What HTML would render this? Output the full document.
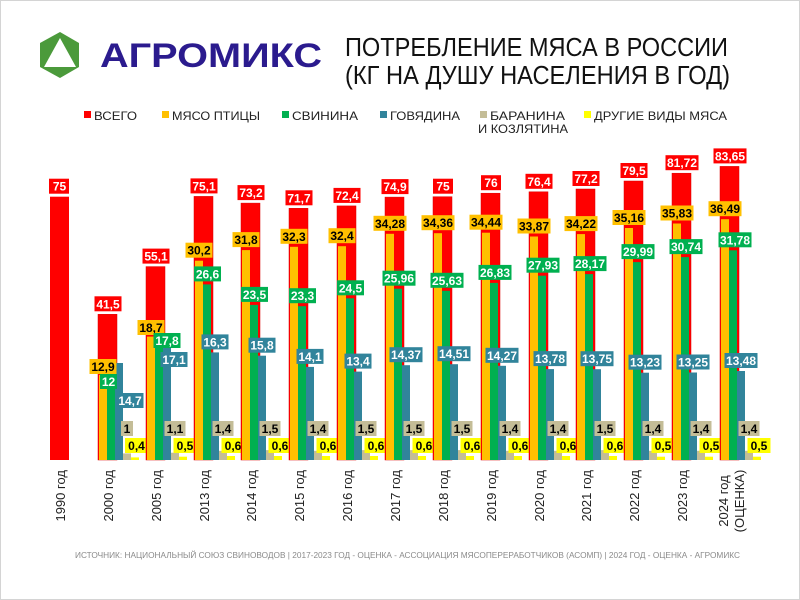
<!DOCTYPE html>
<html><head><meta charset="utf-8"><style>
html,body{margin:0;padding:0;background:#fff}
svg{display:block}
text{font-family:"Liberation Sans",sans-serif}
.lb{font-size:12px;font-weight:bold;text-anchor:middle}
.w{fill:#fff}.k{fill:#000}
.ax{font-size:13px;fill:#222;text-anchor:end}
</style></head><body>
<svg width="800" height="600" viewBox="0 0 800 600" xmlns="http://www.w3.org/2000/svg">
<rect x="0.5" y="0.5" width="799" height="599" fill="#fff" stroke="#d4d4d4"/>
<!-- logo -->
<polygon points="60,32 79,43 79,67 60,78 40,67 40,43" fill="#4b9a3b"/>
<polygon points="60,38 76,67 44,67" fill="#fff"/>
<text x="100" y="67" font-size="34" font-weight="bold" fill="#2b1b8e" textLength="222" lengthAdjust="spacingAndGlyphs">АГРОМИКС</text>
<!-- title -->
<text x="345" y="56" font-size="26" fill="#111" textLength="383" lengthAdjust="spacingAndGlyphs">ПОТРЕБЛЕНИЕ МЯСА В РОССИИ</text>
<text x="345" y="84" font-size="26" fill="#111" textLength="385" lengthAdjust="spacingAndGlyphs">(КГ НА ДУШУ НАСЕЛЕНИЯ В ГОД)</text>
<!-- legend -->
<g font-size="12" fill="#222">
<rect x="84" y="111" width="7" height="7" fill="#ff0000"/><text x="94" y="120" textLength="43" lengthAdjust="spacingAndGlyphs">ВСЕГО</text>
<rect x="162" y="111" width="7" height="7" fill="#ffc000"/><text x="172" y="120" textLength="88" lengthAdjust="spacingAndGlyphs">МЯСО ПТИЦЫ</text>
<rect x="282" y="111" width="7" height="7" fill="#00b050"/><text x="292" y="120" textLength="66" lengthAdjust="spacingAndGlyphs">СВИНИНА</text>
<rect x="380" y="111" width="7" height="7" fill="#31849b"/><text x="390" y="120" textLength="70" lengthAdjust="spacingAndGlyphs">ГОВЯДИНА</text>
<rect x="480" y="111" width="7" height="7" fill="#c4bd97"/><text x="490" y="120" textLength="75" lengthAdjust="spacingAndGlyphs">БАРАНИНА</text>
<text x="478" y="133" textLength="90" lengthAdjust="spacingAndGlyphs">И КОЗЛЯТИНА</text>
<rect x="584" y="111" width="7" height="7" fill="#ffff00"/><text x="594" y="120" textLength="133" lengthAdjust="spacingAndGlyphs">ДРУГИЕ ВИДЫ МЯСА</text>
</g>

<!-- 1990 -->
<g transform="translate(50,0)">
<rect x="0" y="196.7" width="19" height="263.3" fill="#ff0000"/>
<rect x="-1" y="178.7" width="20" height="15" fill="#ff0000"/><text class="lb w" x="9.5" y="190.7">75</text>
<text class="ax" transform="translate(15,470) rotate(-90)">1990 год</text>
</g>

<!-- 2000 -->
<g transform="translate(98,0)">
<rect x="0" y="314.3" width="19" height="145.7" fill="#ff0000" stroke="#d00" stroke-width="0.5"/>
<rect x="1" y="374.9" width="8" height="85.1" fill="#ffc000"/>
<rect x="9" y="380.8" width="8" height="79.2" fill="#00b050"/>
<rect x="17" y="363" width="8" height="97" fill="#31849b"/>
<rect x="25" y="453.4" width="8" height="6.6" fill="#c4bd97"/>
<rect x="33" y="457.4" width="8" height="2.6" fill="#ffff00"/>
<rect x="-3.5" y="296.3" width="27" height="15" fill="#ff0000"/><text class="lb w" x="10" y="308.3">41,5</text>
<rect x="-8.5" y="359" width="27" height="15" fill="#ffc000"/><text class="lb k" x="5" y="371">12,9</text>
<rect x="2" y="374" width="17" height="15" fill="#00b050"/><text class="lb w" x="10.5" y="386">12</text>
<rect x="18.5" y="393" width="27" height="15" fill="#31849b"/><text class="lb w" x="32" y="405">14,7</text>
<rect x="23" y="421" width="12" height="15" fill="#c4bd97"/><text class="lb k" x="29" y="433">1</text>
<rect x="27" y="438" width="23" height="15" fill="#ffff00"/><text class="lb k" x="38.5" y="450">0,4</text>
<text class="ax" transform="translate(15,470) rotate(-90)">2000 год</text>
</g>

<!-- 2005 -->
<g transform="translate(146,0)">
<rect x="0" y="266.6" width="19" height="193.4" fill="#ff0000" stroke="#d00" stroke-width="0.5"/>
<rect x="1" y="336.6" width="8" height="123.4" fill="#ffc000"/>
<rect x="9" y="342.5" width="8" height="117.5" fill="#00b050"/>
<rect x="17" y="347.1" width="8" height="112.9" fill="#31849b"/>
<rect x="25" y="452.7" width="8" height="7.3" fill="#c4bd97"/>
<rect x="33" y="456.7" width="8" height="3.3" fill="#ffff00"/>
<rect x="-3.5" y="248.6" width="27" height="15" fill="#ff0000"/><text class="lb w" x="10" y="260.6">55,1</text>
<rect x="-8.5" y="320" width="27" height="15" fill="#ffc000"/><text class="lb k" x="5" y="332">18,7</text>
<rect x="7.5" y="333" width="27" height="15" fill="#00b050"/><text class="lb w" x="21" y="345">17,8</text>
<rect x="14.5" y="352" width="27" height="15" fill="#31849b"/><text class="lb w" x="28" y="364">17,1</text>
<rect x="18.5" y="421" width="21" height="15" fill="#c4bd97"/><text class="lb k" x="29" y="433">1,1</text>
<rect x="27.5" y="438" width="23" height="15" fill="#ffff00"/><text class="lb k" x="39" y="450">0,5</text>
<text class="ax" transform="translate(15,470) rotate(-90)">2005 год</text>
</g>

<!-- 2013 -->
<g transform="translate(194,0)">
<rect x="0" y="196.4" width="19" height="263.6" fill="#ff0000" stroke="#d00" stroke-width="0.5"/>
<rect x="1" y="260.7" width="8" height="199.3" fill="#ffc000"/>
<rect x="9" y="284.4" width="8" height="175.6" fill="#00b050"/>
<rect x="17" y="352.4" width="8" height="107.6" fill="#31849b"/>
<rect x="25" y="450.8" width="8" height="9.2" fill="#c4bd97"/>
<rect x="33" y="456" width="8" height="4" fill="#ffff00"/>
<rect x="-3.5" y="178.4" width="27" height="15" fill="#ff0000"/><text class="lb w" x="10" y="190.4">75,1</text>
<rect x="-8.5" y="242.7" width="27" height="15" fill="#ffc000"/><text class="lb k" x="5" y="254.7">30,2</text>
<rect x="0" y="266.4" width="27" height="15" fill="#00b050"/><text class="lb w" x="13.5" y="278.4">26,6</text>
<rect x="7.5" y="334.4" width="27" height="15" fill="#31849b"/><text class="lb w" x="21" y="346.4">16,3</text>
<rect x="18.5" y="421" width="21" height="15" fill="#c4bd97"/><text class="lb k" x="29" y="433">1,4</text>
<rect x="27.5" y="438" width="23" height="15" fill="#ffff00"/><text class="lb k" x="39" y="450">0,6</text>
<text class="ax" transform="translate(15,470) rotate(-90)">2013 год</text>
</g>

<!-- 2014 -->
<g transform="translate(241,0)">
<rect x="0" y="203.1" width="19" height="256.9" fill="#ff0000" stroke="#d00" stroke-width="0.5"/>
<rect x="1" y="250.1" width="8" height="209.9" fill="#ffc000"/>
<rect x="9" y="304.9" width="8" height="155.1" fill="#00b050"/>
<rect x="17" y="355.7" width="8" height="104.3" fill="#31849b"/>
<rect x="25" y="450.1" width="8" height="9.9" fill="#c4bd97"/>
<rect x="33" y="456" width="8" height="4" fill="#ffff00"/>
<rect x="-3.5" y="185.1" width="27" height="15" fill="#ff0000"/><text class="lb w" x="10" y="197.1">73,2</text>
<rect x="-8.5" y="232.1" width="27" height="15" fill="#ffc000"/><text class="lb k" x="5" y="244.1">31,8</text>
<rect x="0" y="286.9" width="27" height="15" fill="#00b050"/><text class="lb w" x="13.5" y="298.9">23,5</text>
<rect x="7.5" y="337.7" width="27" height="15" fill="#31849b"/><text class="lb w" x="21" y="349.7">15,8</text>
<rect x="18.5" y="421" width="21" height="15" fill="#c4bd97"/><text class="lb k" x="29" y="433">1,5</text>
<rect x="27.5" y="438" width="23" height="15" fill="#ffff00"/><text class="lb k" x="39" y="450">0,6</text>
<text class="ax" transform="translate(15,470) rotate(-90)">2014 год</text>
</g>

<!-- 2015 -->
<g transform="translate(289,0)">
<rect x="0" y="208.3" width="19" height="251.7" fill="#ff0000" stroke="#d00" stroke-width="0.5"/>
<rect x="1" y="246.8" width="8" height="213.2" fill="#ffc000"/>
<rect x="9" y="306.2" width="8" height="153.8" fill="#00b050"/>
<rect x="17" y="366.9" width="8" height="93.1" fill="#31849b"/>
<rect x="25" y="450.8" width="8" height="9.2" fill="#c4bd97"/>
<rect x="33" y="456" width="8" height="4" fill="#ffff00"/>
<rect x="-3.5" y="190.3" width="27" height="15" fill="#ff0000"/><text class="lb w" x="10" y="202.3">71,7</text>
<rect x="-8.5" y="228.8" width="27" height="15" fill="#ffc000"/><text class="lb k" x="5" y="240.8">32,3</text>
<rect x="0" y="288.2" width="27" height="15" fill="#00b050"/><text class="lb w" x="13.5" y="300.2">23,3</text>
<rect x="7.5" y="348.9" width="27" height="15" fill="#31849b"/><text class="lb w" x="21" y="360.9">14,1</text>
<rect x="18.5" y="421" width="21" height="15" fill="#c4bd97"/><text class="lb k" x="29" y="433">1,4</text>
<rect x="27.5" y="438" width="23" height="15" fill="#ffff00"/><text class="lb k" x="39" y="450">0,6</text>
<text class="ax" transform="translate(15,470) rotate(-90)">2015 год</text>
</g>

<!-- 2016 -->
<g transform="translate(337,0)">
<rect x="0" y="205.9" width="19" height="254.1" fill="#ff0000" stroke="#d00" stroke-width="0.5"/>
<rect x="1" y="246.2" width="8" height="213.8" fill="#ffc000"/>
<rect x="9" y="298.3" width="8" height="161.7" fill="#00b050"/>
<rect x="17" y="371.6" width="8" height="88.4" fill="#31849b"/>
<rect x="25" y="450.1" width="8" height="9.9" fill="#c4bd97"/>
<rect x="33" y="456" width="8" height="4" fill="#ffff00"/>
<rect x="-3.5" y="187.9" width="27" height="15" fill="#ff0000"/><text class="lb w" x="10" y="199.9">72,4</text>
<rect x="-8.5" y="228.2" width="27" height="15" fill="#ffc000"/><text class="lb k" x="5" y="240.2">32,4</text>
<rect x="0" y="280.3" width="27" height="15" fill="#00b050"/><text class="lb w" x="13.5" y="292.3">24,5</text>
<rect x="7.5" y="353.6" width="27" height="15" fill="#31849b"/><text class="lb w" x="21" y="365.6">13,4</text>
<rect x="18.5" y="421" width="21" height="15" fill="#c4bd97"/><text class="lb k" x="29" y="433">1,5</text>
<rect x="27.5" y="438" width="23" height="15" fill="#ffff00"/><text class="lb k" x="39" y="450">0,6</text>
<text class="ax" transform="translate(15,470) rotate(-90)">2016 год</text>
</g>

<!-- 2017 -->
<g transform="translate(385,0)">
<rect x="0" y="197.1" width="19" height="262.9" fill="#ff0000" stroke="#d00" stroke-width="0.5"/>
<rect x="1" y="233.8" width="8" height="226.2" fill="#ffc000"/>
<rect x="9" y="288.7" width="8" height="171.3" fill="#00b050"/>
<rect x="17" y="365.2" width="8" height="94.8" fill="#31849b"/>
<rect x="25" y="450.1" width="8" height="9.9" fill="#c4bd97"/>
<rect x="33" y="456" width="8" height="4" fill="#ffff00"/>
<rect x="-3.5" y="179.1" width="27" height="15" fill="#ff0000"/><text class="lb w" x="10" y="191.1">74,9</text>
<rect x="-11.5" y="215.8" width="33" height="15" fill="#ffc000"/><text class="lb k" x="5" y="227.8">34,28</text>
<rect x="-2.5" y="270.7" width="33" height="15" fill="#00b050"/><text class="lb w" x="14" y="282.7">25,96</text>
<rect x="4.5" y="347.2" width="33" height="15" fill="#31849b"/><text class="lb w" x="21" y="359.2">14,37</text>
<rect x="18.5" y="421" width="21" height="15" fill="#c4bd97"/><text class="lb k" x="29" y="433">1,5</text>
<rect x="27.5" y="438" width="23" height="15" fill="#ffff00"/><text class="lb k" x="39" y="450">0,6</text>
<text class="ax" transform="translate(15,470) rotate(-90)">2017 год</text>
</g>

<!-- 2018 -->
<g transform="translate(433,0)">
<rect x="0" y="196.7" width="19" height="263.3" fill="#ff0000" stroke="#d00" stroke-width="0.5"/>
<rect x="1" y="233.2" width="8" height="226.8" fill="#ffc000"/>
<rect x="9" y="290.8" width="8" height="169.2" fill="#00b050"/>
<rect x="17" y="364.2" width="8" height="95.8" fill="#31849b"/>
<rect x="25" y="450.1" width="8" height="9.9" fill="#c4bd97"/>
<rect x="33" y="456" width="8" height="4" fill="#ffff00"/>
<rect x="0" y="178.7" width="20" height="15" fill="#ff0000"/><text class="lb w" x="10" y="190.7">75</text>
<rect x="-11.5" y="215.2" width="33" height="15" fill="#ffc000"/><text class="lb k" x="5" y="227.2">34,36</text>
<rect x="-2.5" y="272.8" width="33" height="15" fill="#00b050"/><text class="lb w" x="14" y="284.8">25,63</text>
<rect x="4.5" y="346.2" width="33" height="15" fill="#31849b"/><text class="lb w" x="21" y="358.2">14,51</text>
<rect x="18.5" y="421" width="21" height="15" fill="#c4bd97"/><text class="lb k" x="29" y="433">1,5</text>
<rect x="27.5" y="438" width="23" height="15" fill="#ffff00"/><text class="lb k" x="39" y="450">0,6</text>
<text class="ax" transform="translate(15,470) rotate(-90)">2018 год</text>
</g>

<!-- 2019 -->
<g transform="translate(481,0)">
<rect x="0" y="193.2" width="19" height="266.8" fill="#ff0000" stroke="#d00" stroke-width="0.5"/>
<rect x="1" y="232.7" width="8" height="227.3" fill="#ffc000"/>
<rect x="9" y="282.9" width="8" height="177.1" fill="#00b050"/>
<rect x="17" y="365.8" width="8" height="94.2" fill="#31849b"/>
<rect x="25" y="450.8" width="8" height="9.2" fill="#c4bd97"/>
<rect x="33" y="456" width="8" height="4" fill="#ffff00"/>
<rect x="0" y="175.2" width="20" height="15" fill="#ff0000"/><text class="lb w" x="10" y="187.2">76</text>
<rect x="-11.5" y="214.7" width="33" height="15" fill="#ffc000"/><text class="lb k" x="5" y="226.7">34,44</text>
<rect x="-2.5" y="264.9" width="33" height="15" fill="#00b050"/><text class="lb w" x="14" y="276.9">26,83</text>
<rect x="4.5" y="347.8" width="33" height="15" fill="#31849b"/><text class="lb w" x="21" y="359.8">14,27</text>
<rect x="18.5" y="421" width="21" height="15" fill="#c4bd97"/><text class="lb k" x="29" y="433">1,4</text>
<rect x="27.5" y="438" width="23" height="15" fill="#ffff00"/><text class="lb k" x="39" y="450">0,6</text>
<text class="ax" transform="translate(15,470) rotate(-90)">2019 год</text>
</g>

<!-- 2020 -->
<g transform="translate(529,0)">
<rect x="0" y="191.8" width="19" height="268.2" fill="#ff0000" stroke="#d00" stroke-width="0.5"/>
<rect x="1" y="236.5" width="8" height="223.5" fill="#ffc000"/>
<rect x="9" y="275.7" width="8" height="184.3" fill="#00b050"/>
<rect x="17" y="369.1" width="8" height="90.9" fill="#31849b"/>
<rect x="25" y="450.8" width="8" height="9.2" fill="#c4bd97"/>
<rect x="33" y="456" width="8" height="4" fill="#ffff00"/>
<rect x="-3.5" y="173.8" width="27" height="15" fill="#ff0000"/><text class="lb w" x="10" y="185.8">76,4</text>
<rect x="-11.5" y="218.5" width="33" height="15" fill="#ffc000"/><text class="lb k" x="5" y="230.5">33,87</text>
<rect x="-2.5" y="257.7" width="33" height="15" fill="#00b050"/><text class="lb w" x="14" y="269.7">27,93</text>
<rect x="4.5" y="351.1" width="33" height="15" fill="#31849b"/><text class="lb w" x="21" y="363.1">13,78</text>
<rect x="18.5" y="421" width="21" height="15" fill="#c4bd97"/><text class="lb k" x="29" y="433">1,4</text>
<rect x="27.5" y="438" width="23" height="15" fill="#ffff00"/><text class="lb k" x="39" y="450">0,6</text>
<text class="ax" transform="translate(15,470) rotate(-90)">2020 год</text>
</g>

<!-- 2021 -->
<g transform="translate(576,0)">
<rect x="0" y="189" width="19" height="271" fill="#ff0000" stroke="#d00" stroke-width="0.5"/>
<rect x="1" y="234.1" width="8" height="225.9" fill="#ffc000"/>
<rect x="9" y="274.1" width="8" height="185.9" fill="#00b050"/>
<rect x="17" y="369.2" width="8" height="90.8" fill="#31849b"/>
<rect x="25" y="450.1" width="8" height="9.9" fill="#c4bd97"/>
<rect x="33" y="456" width="8" height="4" fill="#ffff00"/>
<rect x="-3.5" y="171" width="27" height="15" fill="#ff0000"/><text class="lb w" x="10" y="183">77,2</text>
<rect x="-11.5" y="216.1" width="33" height="15" fill="#ffc000"/><text class="lb k" x="5" y="228.1">34,22</text>
<rect x="-2.5" y="256.1" width="33" height="15" fill="#00b050"/><text class="lb w" x="14" y="268.1">28,17</text>
<rect x="4.5" y="351.2" width="33" height="15" fill="#31849b"/><text class="lb w" x="21" y="363.2">13,75</text>
<rect x="18.5" y="421" width="21" height="15" fill="#c4bd97"/><text class="lb k" x="29" y="433">1,5</text>
<rect x="27.5" y="438" width="23" height="15" fill="#ffff00"/><text class="lb k" x="39" y="450">0,6</text>
<text class="ax" transform="translate(15,470) rotate(-90)">2021 год</text>
</g>

<!-- 2022 -->
<g transform="translate(624,0)">
<rect x="0" y="181" width="19" height="279" fill="#ff0000" stroke="#d00" stroke-width="0.5"/>
<rect x="1" y="228" width="8" height="232" fill="#ffc000"/>
<rect x="9" y="262.1" width="8" height="197.9" fill="#00b050"/>
<rect x="17" y="372.7" width="8" height="87.3" fill="#31849b"/>
<rect x="25" y="450.8" width="8" height="9.2" fill="#c4bd97"/>
<rect x="33" y="456.7" width="8" height="3.3" fill="#ffff00"/>
<rect x="-3.5" y="163" width="27" height="15" fill="#ff0000"/><text class="lb w" x="10" y="175">79,5</text>
<rect x="-11.5" y="210" width="33" height="15" fill="#ffc000"/><text class="lb k" x="5" y="222">35,16</text>
<rect x="-2.5" y="244.1" width="33" height="15" fill="#00b050"/><text class="lb w" x="14" y="256.1">29,99</text>
<rect x="4.5" y="354.7" width="33" height="15" fill="#31849b"/><text class="lb w" x="21" y="366.7">13,23</text>
<rect x="18.5" y="421" width="21" height="15" fill="#c4bd97"/><text class="lb k" x="29" y="433">1,4</text>
<rect x="27.5" y="438" width="23" height="15" fill="#ffff00"/><text class="lb k" x="39" y="450">0,5</text>
<text class="ax" transform="translate(15,470) rotate(-90)">2022 год</text>
</g>

<!-- 2023 -->
<g transform="translate(672,0)">
<rect x="0" y="173.2" width="19" height="286.8" fill="#ff0000" stroke="#d00" stroke-width="0.5"/>
<rect x="1" y="223.5" width="8" height="236.5" fill="#ffc000"/>
<rect x="9" y="257.1" width="8" height="202.9" fill="#00b050"/>
<rect x="17" y="372.5" width="8" height="87.5" fill="#31849b"/>
<rect x="25" y="450.8" width="8" height="9.2" fill="#c4bd97"/>
<rect x="33" y="456.7" width="8" height="3.3" fill="#ffff00"/>
<rect x="-6.5" y="155.2" width="33" height="15" fill="#ff0000"/><text class="lb w" x="10" y="167.2">81,72</text>
<rect x="-11.5" y="205.5" width="33" height="15" fill="#ffc000"/><text class="lb k" x="5" y="217.5">35,83</text>
<rect x="-2.5" y="239.1" width="33" height="15" fill="#00b050"/><text class="lb w" x="14" y="251.1">30,74</text>
<rect x="4.5" y="354.5" width="33" height="15" fill="#31849b"/><text class="lb w" x="21" y="366.5">13,25</text>
<rect x="18.5" y="421" width="21" height="15" fill="#c4bd97"/><text class="lb k" x="29" y="433">1,4</text>
<rect x="27.5" y="438" width="23" height="15" fill="#ffff00"/><text class="lb k" x="39" y="450">0,5</text>
<text class="ax" transform="translate(15,470) rotate(-90)">2023 год</text>
</g>

<!-- 2024 -->
<g transform="translate(720,0)">
<rect x="0" y="166.4" width="19" height="293.6" fill="#ff0000" stroke="#d00" stroke-width="0.5"/>
<rect x="1" y="219.2" width="8" height="240.8" fill="#ffc000"/>
<rect x="9" y="250.3" width="8" height="209.7" fill="#00b050"/>
<rect x="17" y="371" width="8" height="89" fill="#31849b"/>
<rect x="25" y="450.8" width="8" height="9.2" fill="#c4bd97"/>
<rect x="33" y="456.7" width="8" height="3.3" fill="#ffff00"/>
<rect x="-6.5" y="148.4" width="33" height="15" fill="#ff0000"/><text class="lb w" x="10" y="160.4">83,65</text>
<rect x="-11.5" y="201.2" width="33" height="15" fill="#ffc000"/><text class="lb k" x="5" y="213.2">36,49</text>
<rect x="-1.5" y="232.3" width="33" height="15" fill="#00b050"/><text class="lb w" x="15" y="244.3">31,78</text>
<rect x="4.5" y="353" width="33" height="15" fill="#31849b"/><text class="lb w" x="21" y="365">13,48</text>
<rect x="18.5" y="421" width="21" height="15" fill="#c4bd97"/><text class="lb k" x="29" y="433">1,4</text>
<rect x="27.5" y="438" width="23" height="15" fill="#ffff00"/><text class="lb k" x="39" y="450">0,5</text>
<text class="ax" style="text-anchor:middle" transform="translate(8,501) rotate(-90)">2024 год</text>
<text class="ax" style="text-anchor:middle" transform="translate(24,501) rotate(-90)">(ОЦЕНКА)</text>
</g>

<!-- footer -->
<text x="75" y="558" font-size="8" fill="#8a8a8a" textLength="665" lengthAdjust="spacingAndGlyphs">ИСТОЧНИК: НАЦИОНАЛЬНЫЙ СОЮЗ СВИНОВОДОВ | 2017-2023 ГОД - ОЦЕНКА - АССОЦИАЦИЯ МЯСОПЕРЕРАБОТЧИКОВ (АСОМП) | 2024 ГОД - ОЦЕНКА - АГРОМИКС</text>
</svg>
</body></html>
